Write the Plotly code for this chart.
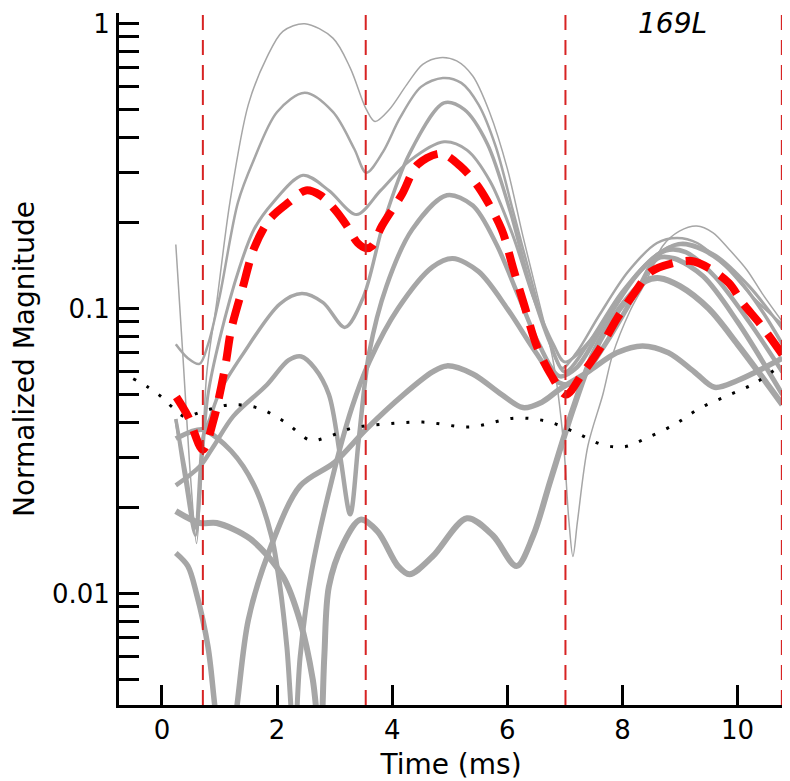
import math
import plotly.graph_objects as go

# ---------------- data ----------------
c1_x = [0.24, 0.36, 0.5, 0.6, 0.68, 0.78, 0.95, 1.18, 1.5, 1.82, 2.1, 2.48, 2.97, 3.27, 3.55, 3.7, 3.95,
        4.25, 4.53, 4.83, 5.12, 5.4, 5.69, 6.0, 6.27, 6.56, 6.8, 6.97, 7.07, 7.14, 7.22, 7.4, 7.66, 7.83,
        8.13, 8.42, 8.7, 8.99, 9.29, 9.57, 9.86, 10.16, 10.43, 10.78]
c1_y = [0.168, 0.07, 0.025, 0.015, 0.025, 0.06, 0.105, 0.236, 0.52, 0.76, 0.94, 1.0, 0.89, 0.70, 0.50, 0.454, 0.5,
        0.61, 0.72, 0.76, 0.74, 0.655, 0.49, 0.31, 0.18, 0.104, 0.065, 0.035, 0.018, 0.0135, 0.018, 0.033, 0.05, 0.069,
        0.098, 0.126, 0.166, 0.187, 0.195, 0.185, 0.161, 0.137, 0.113, 0.09]

c2_x = [0.24, 0.45, 0.65, 0.8, 1.0, 1.32, 1.58, 2.0, 2.48, 2.97, 3.34, 3.55, 3.84, 4.13, 4.5, 4.88, 5.2, 5.5,
        5.8, 6.1, 6.4, 6.7, 6.95, 7.2, 7.6, 8.1, 8.6, 8.95, 9.3, 9.8, 10.3, 10.78]
c2_y = [0.075, 0.067, 0.064, 0.075, 0.11, 0.236, 0.327, 0.49, 0.572, 0.49, 0.364, 0.30, 0.355, 0.465, 0.6, 0.645, 0.62, 0.52,
        0.37, 0.22, 0.13, 0.08, 0.062, 0.07, 0.095, 0.135, 0.17, 0.177, 0.17, 0.14, 0.108, 0.088]

c3_x = [0.24, 0.4, 0.58, 0.7, 0.8, 1.0, 1.35, 1.6, 1.93, 2.45, 2.9, 3.38, 3.8, 4.3, 4.9, 5.3, 5.7, 6.1,
        6.45, 6.8, 7.0, 7.5, 8.1, 8.7, 9.05, 9.6, 10.2, 10.78]
c3_y = [0.041, 0.025, 0.016, 0.03, 0.05, 0.078, 0.14, 0.19, 0.236, 0.294, 0.26, 0.214, 0.26, 0.33, 0.385, 0.36, 0.28, 0.18,
        0.11, 0.075, 0.065, 0.08, 0.12, 0.16, 0.17, 0.155, 0.12, 0.085]

c4_x = [0.24, 0.42, 0.58, 0.72, 0.83, 1.0, 1.4, 2.05, 2.43, 2.8, 3.18, 3.5, 3.85, 4.3, 4.9, 5.25, 5.65, 6.05,
        6.4, 6.75, 7.0, 7.4, 8.0, 8.6, 9.0, 9.4, 9.9, 10.4, 10.78]
c4_y = [0.041, 0.026, 0.017, 0.036, 0.041, 0.051, 0.069, 0.104, 0.113, 0.105, 0.086, 0.11, 0.2, 0.35, 0.527, 0.5, 0.38, 0.22,
        0.12, 0.075, 0.06, 0.075, 0.115, 0.155, 0.168, 0.16, 0.135, 0.1, 0.075]

c5_x = [0.24, 0.66, 0.9, 1.24, 1.82, 2.2, 2.42, 2.65, 2.9, 3.1, 3.27, 3.42, 3.6, 3.9, 4.35, 4.95, 5.4, 5.8,
        6.2, 6.55, 6.9, 7.2, 7.7, 8.3, 8.75, 9.1, 9.6, 10.2, 10.78]
c5_y = [0.024, 0.028, 0.033, 0.042, 0.054, 0.066, 0.068, 0.062, 0.05, 0.03, 0.019, 0.035, 0.07, 0.12, 0.19, 0.25, 0.23, 0.17,
        0.11, 0.075, 0.058, 0.062, 0.09, 0.135, 0.16, 0.158, 0.13, 0.09, 0.06]

c6_x = [0.24, 0.5, 0.72, 1.2, 1.6, 1.9, 2.05, 2.17, 2.3, 2.4, 2.6, 2.95, 3.3, 3.6, 4.1, 4.7, 5.05, 5.5, 6.0,
        6.5, 6.9, 7.2, 7.7, 8.3, 8.6, 8.9, 9.4, 10.0, 10.78]
c6_y = [0.035, 0.037, 0.0376, 0.0317, 0.024, 0.016, 0.0106, 0.0065, 0.003, 0.006, 0.012, 0.025, 0.045, 0.065, 0.1, 0.14, 0.15, 0.135, 0.1,
        0.07, 0.055, 0.055, 0.075, 0.12, 0.15, 0.15, 0.13, 0.09, 0.05]

c7_x = [0.24, 0.45, 0.6, 0.8, 0.92, 1.1, 1.3, 1.5, 1.85, 2.4, 3.0, 3.55, 4.2, 4.7, 4.95, 5.4, 5.9, 6.27, 6.6,
        6.9, 7.4, 7.9, 8.35, 8.8, 9.25, 9.6, 10.0, 10.78]
c7_y = [0.0139, 0.0125, 0.01, 0.0065, 0.004, 0.002, 0.004, 0.0081, 0.0139, 0.0239, 0.0289, 0.0378, 0.05, 0.06, 0.063, 0.059, 0.05, 0.045, 0.047,
        0.052, 0.06, 0.07, 0.074, 0.07, 0.06, 0.053, 0.056, 0.067]

c8_x = [0.24, 0.66, 0.95, 1.53, 2.1, 2.4, 2.62, 2.75, 2.82, 2.9, 3.15, 3.45, 3.75, 4.1, 4.3, 4.7, 5.3, 5.75,
        6.16, 6.45, 6.75, 7.15, 7.5, 7.95, 8.4, 8.65, 9.0, 9.5, 10.0, 10.5, 10.78]
c8_y = [0.0195, 0.0177, 0.0177, 0.0156, 0.0115, 0.008, 0.005, 0.003, 0.006, 0.0106, 0.015, 0.0182, 0.0165, 0.0125, 0.0117, 0.0135, 0.0184, 0.016,
        0.0125, 0.016, 0.025, 0.045, 0.07, 0.1, 0.125, 0.128, 0.12, 0.1, 0.075, 0.055, 0.046]

gray_x = [c1_x, c2_x, c3_x, c4_x, c5_x, c6_x, c7_x, c8_x]
gray_y = [c1_y, c2_y, c3_y, c4_y, c5_y, c6_y, c7_y, c8_y]

red_x = [0.25, 0.45, 0.71, 0.9, 1.1, 1.2, 1.4, 1.6, 1.87, 2.2, 2.5, 2.75, 3.0, 3.2, 3.4, 3.55, 3.65, 3.82, 4.17,
         4.44, 4.85, 5.2, 5.5, 5.9, 6.1, 6.3, 6.5, 6.75, 7.02, 7.3, 7.6, 7.9, 8.2, 8.5, 8.85, 9.2, 9.5, 9.85,
         10.1, 10.4, 10.78]
red_y = [0.049, 0.042, 0.032, 0.041, 0.063, 0.084, 0.118, 0.163, 0.206, 0.236, 0.26, 0.25, 0.223, 0.197, 0.170, 0.163, 0.166, 0.195, 0.252,
         0.32, 0.35, 0.314, 0.267, 0.19, 0.139, 0.102, 0.075, 0.059, 0.050, 0.059, 0.072, 0.092, 0.113, 0.135, 0.144, 0.147, 0.139, 0.123,
         0.104, 0.088, 0.069]

dot_x = [-0.5, -0.24, 0.0, 0.17, 0.4, 0.66, 1.18, 1.67, 2.14, 2.57, 2.83, 3.3, 3.84, 4.53, 5.35, 6.13, 6.68,
         7.17, 7.66, 8.04, 8.42, 8.91, 9.34, 9.83, 10.33, 10.78]
dot_y = [0.0568, 0.053, 0.0489, 0.0453, 0.0418, 0.0433, 0.046, 0.0448, 0.040, 0.0346, 0.0352, 0.0381, 0.0393, 0.040, 0.0385, 0.0413, 0.0403,
         0.0369, 0.0333, 0.0328, 0.0352, 0.0393, 0.0447, 0.0496, 0.0552, 0.064]

vline_x = [0.71, 3.54, 7.01, 10.77]

Y_MIN, Y_MAX = 0.00407, 1.09
x_ticks = [0, 2, 4, 6, 8, 10]
y_ticks = [m * 10.0 ** e for e in (-3, -2, -1) for m in range(1, 10)] + [1.0, Y_MAX]
y_ticklabels = [("1" if v == 1.0 else "0.1" if abs(v - 0.1) < 1e-12 else "0.01" if abs(v - 0.01) < 1e-12 else "")
                for v in y_ticks]
label_text = "169L"

# ---------------- figure ----------------
GRAY = "#a6a6a6"
FONT = "DejaVu Sans"
gray_widths = [1.5, 2.5, 3, 3.5, 4.5, 5, 5.5, 6]

fig = go.Figure()
for xs, ys, w in zip(gray_x, gray_y, gray_widths):
    fig.add_trace(go.Scatter(x=xs, y=ys, mode="lines",
                             line=dict(color=GRAY, width=w, shape="spline", smoothing=0.9),
                             hoverinfo="skip", showlegend=False))

fig.add_trace(go.Scatter(x=dot_x, y=dot_y, mode="lines",
                         line=dict(color="black", width=3, dash="3px,12px", shape="spline"),
                         showlegend=False))
fig.add_trace(go.Scatter(x=red_x, y=red_y, mode="lines",
                         line=dict(color="#ff0000", width=8, dash="25px,13px", shape="spline", smoothing=0.9),
                         showlegend=False))

for xv in vline_x:
    fig.add_shape(type="line", xref="x", yref="paper", x0=xv, x1=xv, y0=0, y1=1,
                  line=dict(color="rgb(215,35,35)", width=2, dash="15px,10px"))

fig.add_annotation(x=8.87, y=0.0, xref="x", yref="y", text=label_text, showarrow=False,
                   font=dict(family=FONT, size=28, color="black", style="italic"))

# the page body adds an 8 px margin, so the figure is 8 px smaller than the window
fig.update_layout(
    width=782, height=773,
    margin=dict(l=111, r=7, t=5, b=76, autoexpand=False),
    paper_bgcolor="white", plot_bgcolor="white",
    font=dict(family=FONT, color="black"),
    showlegend=False,
)
fig.update_xaxes(range=[-0.747, 10.79], showgrid=False, zeroline=False, automargin=False,
                 showline=True, linewidth=3, linecolor="black",
                 ticks="inside", ticklen=20, tickwidth=3, tickcolor="black",
                 tickvals=x_ticks, tickfont=dict(size=26, family=FONT),
                 title=dict(text="Time (ms)", font=dict(size=28, family=FONT), standoff=12))
fig.update_yaxes(type="log", range=[math.log10(Y_MIN), math.log10(Y_MAX)], showgrid=False, zeroline=False,
                 automargin=False,
                 showline=True, linewidth=3, linecolor="black",
                 ticks="inside", ticklen=20, tickwidth=3, tickcolor="black",
                 tickvals=y_ticks, ticktext=y_ticklabels, tickfont=dict(size=26, family=FONT),
                 ticklabelstandoff=1,
                 title=dict(text="Normalized Magnitude", font=dict(size=28, family=FONT), standoff=34))

fig.write_html("out.html")
